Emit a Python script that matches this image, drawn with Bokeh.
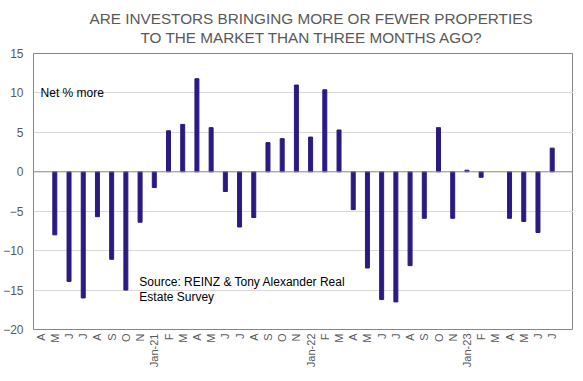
import math
from bokeh.plotting import figure
from bokeh.models import Range1d, FixedTicker, Label, Span, Title, ColumnDataSource
from bokeh.embed import file_html
from bokeh.resources import INLINE

# ---- data ----
months = ["A", "M", "J", "J", "A", "S", "O", "N", "Jan-21",
          "F", "M", "A", "M", "J", "J", "A", "S", "O", "N", "Jan-22",
          "F", "M", "A", "M", "J", "J", "A", "S", "O", "N", "Jan-23",
          "F", "M", "A", "M", "J", "J"]
net_more = [None, -8.0, -13.9, -16.0, -5.7, -11.1, -15.0, -6.4, -2.0,
            5.2, 6.0, 11.8, 5.6, -2.5, -7.0, -5.8, 3.7, 4.2, 11.0, 4.4,
            10.4, 5.3, -4.8, -12.2, -16.2, -16.5, -11.9, -5.9, 5.6, -5.9, 0.2,
            -0.7, None, -5.9, -6.3, -7.7, 3.0]
y_ticks = [-20, -15, -10, -5, 0, 5, 10, 15]

title_line1 = "ARE INVESTORS BRINGING MORE OR FEWER PROPERTIES"
title_line2 = "TO THE MARKET THAN THREE MONTHS AGO?"

FONT = "Liberation Sans"
GREY = "#595959"
BAR = "#2A1A82"
FW, FH = 540, 276

xs = list(range(len(months)))
tops = [float("nan") if v is None else v for v in net_more]
src = ColumnDataSource(dict(x=xs, top=tops))

p = figure(frame_width=FW, frame_height=FH, output_backend="svg", toolbar_location=None,
           x_range=Range1d(-0.5, len(months) + 0.5), y_range=Range1d(-20, 15),
           min_border_left=0, min_border_right=0, min_border_top=0,
           min_border_bottom=0)

p.vbar(x="x", top="top", bottom=0, width=0.28, color=BAR, source=src)

# titles: stacked from the frame outwards
sp_bottom = Title(text=" ", text_font_size="4px", standoff=0)
t2 = Title(text=title_line2, align="left", offset=107, text_font=FONT,
           text_font_size="15.3px", text_font_style="normal", text_color=GREY, standoff=1)
t1 = Title(text=title_line1, align="left", offset=56, text_font=FONT,
           text_font_size="15.3px", text_font_style="normal", text_color=GREY, standoff=0)
sp_top = Title(text=" ", text_font_size="4px", standoff=0)
p.add_layout(sp_bottom, "above")
p.add_layout(t2, "above")
p.add_layout(t1, "above")
p.add_layout(sp_top, "above")

# axes
p.yaxis.ticker = FixedTicker(ticks=y_ticks)
p.yaxis.major_label_text_font = FONT
p.yaxis.major_label_text_font_size = "12px"
p.yaxis.major_label_text_color = GREY
p.yaxis.major_label_standoff = 10
p.yaxis.major_tick_out = 0
p.yaxis.major_tick_in = 0
p.yaxis.minor_tick_out = 0
p.yaxis.minor_tick_in = 0
p.yaxis.major_tick_line_color = None
p.yaxis.minor_tick_line_color = None
p.yaxis.axis_line_color = None

p.xaxis.ticker = FixedTicker(ticks=xs)
p.xaxis.major_label_overrides = {i: m for i, m in zip(xs, months)}
p.xaxis.major_label_orientation = math.pi / 2
p.xaxis.major_label_text_font = FONT
p.xaxis.major_label_text_font_size = "11px"
p.xaxis.major_label_text_color = GREY
p.xaxis.major_label_standoff = 4
p.xaxis.major_tick_out = 0
p.xaxis.major_tick_in = 0
p.xaxis.minor_tick_out = 0
p.xaxis.minor_tick_in = 0
p.xaxis.major_tick_line_color = None
p.xaxis.minor_tick_line_color = None
p.xaxis.axis_line_color = None

p.xgrid.grid_line_color = None
p.ygrid.ticker = FixedTicker(ticks=[-15, -10, -5, 5, 10])
p.ygrid.grid_line_color = "#D9D9D9"
p.ygrid.grid_line_width = 1

p.outline_line_color = "#868686"
p.outline_line_width = 1

p.add_layout(Span(location=0, dimension="width", line_color="#868686", line_width=1))

p.add_layout(Label(x=-0.0, y=10, text="Net % more", text_font=FONT, text_font_size="12px",
                   text_color="#000000", text_baseline="middle"))
p.add_layout(Label(x=6.95, y=-13.94, text="Source: REINZ & Tony Alexander Real",
                   text_font=FONT, text_font_size="12px", text_color="#000000",
                   text_baseline="middle"))
p.add_layout(Label(x=6.95, y=-15.85, text="Estate Survey",
                   text_font=FONT, text_font_size="12px", text_color="#000000",
                   text_baseline="middle"))

p.background_fill_color = "white"
p.border_fill_color = "white"

open("out.html", "w").write(file_html(p, INLINE))
